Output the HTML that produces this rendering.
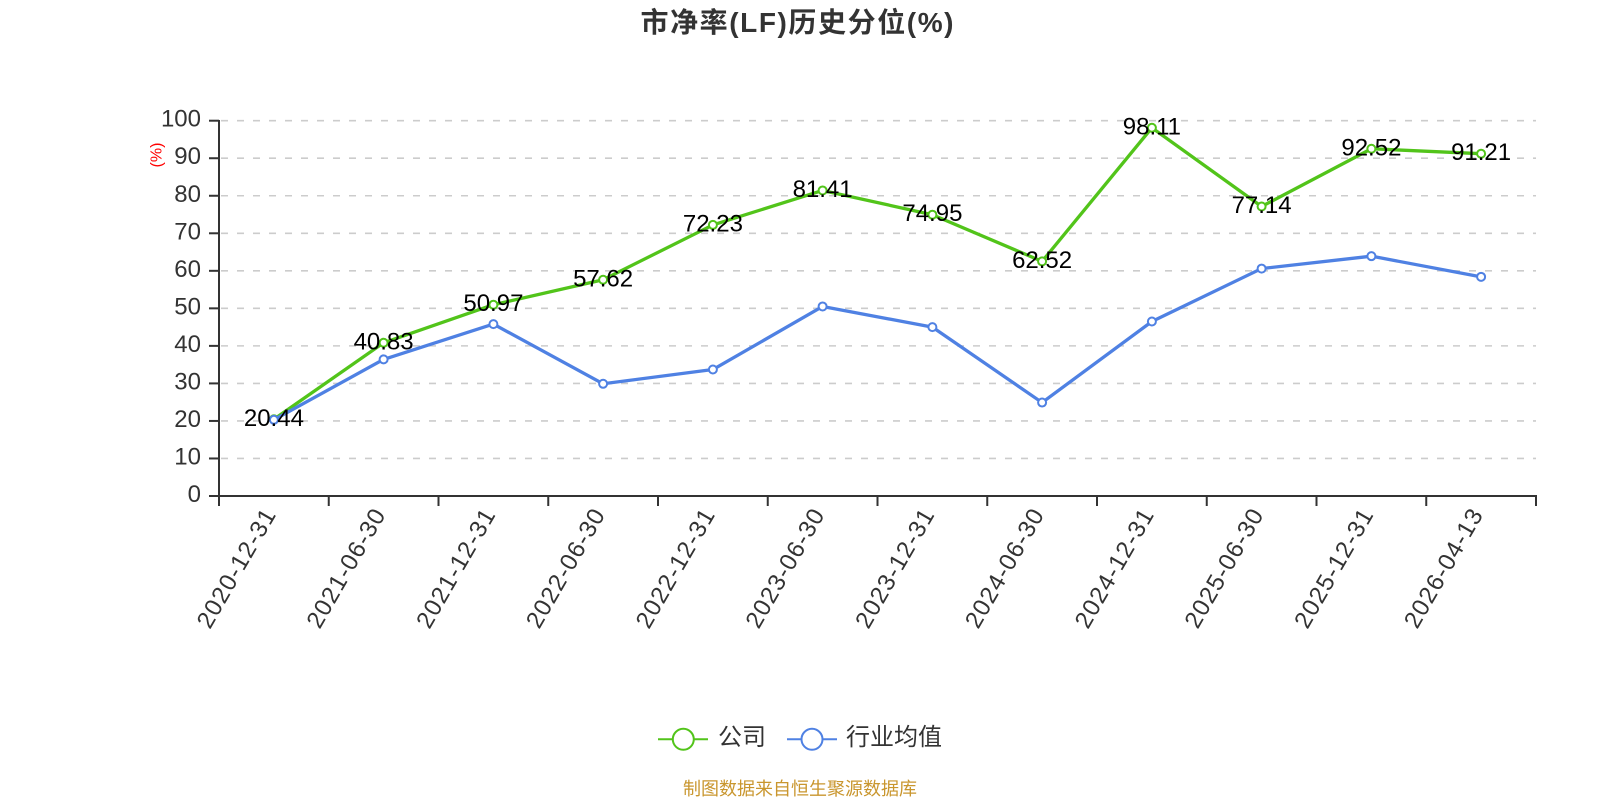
<!DOCTYPE html>
<html>
<head>
<meta charset="utf-8">
<style>
  html, body { margin: 0; padding: 0; background: #ffffff; }
  svg { display: block; }
  text { font-family: "Liberation Sans", "Noto Sans CJK SC", sans-serif; }
</style>
</head>
<body>
<svg width="1600" height="800" viewBox="0 0 1600 800" xmlns="http://www.w3.org/2000/svg">
  <rect x="0" y="0" width="1600" height="800" fill="#ffffff"/>

  <!-- Title -->
  <text x="797" y="32" text-anchor="middle" font-size="28" font-weight="bold" fill="#333333" textLength="313" lengthAdjust="spacing">市净率(LF)历史分位(%)</text>

  <!-- Grid lines -->
  <g stroke="#cccccc" stroke-width="1.6" stroke-dasharray="7 9" fill="none">
    <line x1="221" y1="458.47" x2="1536" y2="458.47"/>
    <line x1="221" y1="420.94" x2="1536" y2="420.94"/>
    <line x1="221" y1="383.41" x2="1536" y2="383.41"/>
    <line x1="221" y1="345.88" x2="1536" y2="345.88"/>
    <line x1="221" y1="308.35" x2="1536" y2="308.35"/>
    <line x1="221" y1="270.82" x2="1536" y2="270.82"/>
    <line x1="221" y1="233.29" x2="1536" y2="233.29"/>
    <line x1="221" y1="195.76" x2="1536" y2="195.76"/>
    <line x1="221" y1="158.23" x2="1536" y2="158.23"/>
    <line x1="221" y1="120.7" x2="1536" y2="120.7"/>
  </g>

  <!-- Y axis -->
  <g stroke="#333333" stroke-width="2" fill="none">
    <line x1="219" y1="120" x2="219" y2="497"/>
    <line x1="209" y1="496" x2="219" y2="496"/>
    <line x1="209" y1="458.47" x2="219" y2="458.47"/>
    <line x1="209" y1="420.94" x2="219" y2="420.94"/>
    <line x1="209" y1="383.41" x2="219" y2="383.41"/>
    <line x1="209" y1="345.88" x2="219" y2="345.88"/>
    <line x1="209" y1="308.35" x2="219" y2="308.35"/>
    <line x1="209" y1="270.82" x2="219" y2="270.82"/>
    <line x1="209" y1="233.29" x2="219" y2="233.29"/>
    <line x1="209" y1="195.76" x2="219" y2="195.76"/>
    <line x1="209" y1="158.23" x2="219" y2="158.23"/>
    <line x1="209" y1="120.7" x2="219" y2="120.7"/>
  </g>
  <g font-size="24" fill="#333333" text-anchor="end">
    <text x="201" y="502">0</text>
    <text x="201" y="464.47">10</text>
    <text x="201" y="426.94">20</text>
    <text x="201" y="389.41">30</text>
    <text x="201" y="351.88">40</text>
    <text x="201" y="314.35">50</text>
    <text x="201" y="276.82">60</text>
    <text x="201" y="239.29">70</text>
    <text x="201" y="201.76">80</text>
    <text x="201" y="164.23">90</text>
    <text x="201" y="126.7">100</text>
  </g>
  <text x="157" y="155" font-size="16" fill="#ff0000" text-anchor="middle" dominant-baseline="central" transform="rotate(-90 157 155)">(%)</text>

  <!-- X axis -->
  <g stroke="#333333" stroke-width="2" fill="none">
    <line x1="218" y1="496" x2="1537" y2="496"/>
    <line x1="219" y1="496" x2="219" y2="506"/>
    <line x1="328.75" y1="496" x2="328.75" y2="506"/>
    <line x1="438.5" y1="496" x2="438.5" y2="506"/>
    <line x1="548.25" y1="496" x2="548.25" y2="506"/>
    <line x1="658" y1="496" x2="658" y2="506"/>
    <line x1="767.75" y1="496" x2="767.75" y2="506"/>
    <line x1="877.5" y1="496" x2="877.5" y2="506"/>
    <line x1="987.25" y1="496" x2="987.25" y2="506"/>
    <line x1="1097" y1="496" x2="1097" y2="506"/>
    <line x1="1206.75" y1="496" x2="1206.75" y2="506"/>
    <line x1="1316.5" y1="496" x2="1316.5" y2="506"/>
    <line x1="1426.25" y1="496" x2="1426.25" y2="506"/>
    <line x1="1536" y1="496" x2="1536" y2="506"/>
  </g>
  <g font-size="24" fill="#333333" text-anchor="end" dominant-baseline="central">
    <text x="269.9" y="511" textLength="133" lengthAdjust="spacing" transform="rotate(-60 269.9 511)">2020-12-31</text>
    <text x="379.6" y="511" textLength="133" lengthAdjust="spacing" transform="rotate(-60 379.6 511)">2021-06-30</text>
    <text x="489.4" y="511" textLength="133" lengthAdjust="spacing" transform="rotate(-60 489.4 511)">2021-12-31</text>
    <text x="599.1" y="511" textLength="133" lengthAdjust="spacing" transform="rotate(-60 599.1 511)">2022-06-30</text>
    <text x="708.9" y="511" textLength="133" lengthAdjust="spacing" transform="rotate(-60 708.9 511)">2022-12-31</text>
    <text x="818.6" y="511" textLength="133" lengthAdjust="spacing" transform="rotate(-60 818.6 511)">2023-06-30</text>
    <text x="928.4" y="511" textLength="133" lengthAdjust="spacing" transform="rotate(-60 928.4 511)">2023-12-31</text>
    <text x="1038.1" y="511" textLength="133" lengthAdjust="spacing" transform="rotate(-60 1038.1 511)">2024-06-30</text>
    <text x="1147.9" y="511" textLength="133" lengthAdjust="spacing" transform="rotate(-60 1147.9 511)">2024-12-31</text>
    <text x="1257.6" y="511" textLength="133" lengthAdjust="spacing" transform="rotate(-60 1257.6 511)">2025-06-30</text>
    <text x="1367.4" y="511" textLength="133" lengthAdjust="spacing" transform="rotate(-60 1367.4 511)">2025-12-31</text>
    <text x="1477.1" y="511" textLength="133" lengthAdjust="spacing" transform="rotate(-60 1477.1 511)">2026-04-13</text>
  </g>

  <!-- Green series (公司) -->
  <polyline fill="none" stroke="#52c41a" stroke-width="3.3" stroke-linejoin="round"
    points="273.9,419.29 383.6,342.76 493.4,304.71 603.1,279.75 712.9,224.92 822.6,190.47 932.4,214.71 1042.1,261.36 1151.9,127.79 1261.6,206.49 1371.4,148.77 1481.1,153.69"/>
  <g fill="#ffffff" stroke="#52c41a" stroke-width="2">
    <circle cx="273.9" cy="419.29" r="4"/>
    <circle cx="383.6" cy="342.76" r="4"/>
    <circle cx="493.4" cy="304.71" r="4"/>
    <circle cx="603.1" cy="279.75" r="4"/>
    <circle cx="712.9" cy="224.92" r="4"/>
    <circle cx="822.6" cy="190.47" r="4"/>
    <circle cx="932.4" cy="214.71" r="4"/>
    <circle cx="1042.1" cy="261.36" r="4"/>
    <circle cx="1151.9" cy="127.79" r="4"/>
    <circle cx="1261.6" cy="206.49" r="4"/>
    <circle cx="1371.4" cy="148.77" r="4"/>
    <circle cx="1481.1" cy="153.69" r="4"/>
  </g>

  <!-- Blue series (行业均值) -->
  <polyline fill="none" stroke="#4f81e3" stroke-width="3.3" stroke-linejoin="round"
    points="273.9,419.81 383.6,359.39 493.4,324.11 603.1,383.79 712.9,369.52 822.6,306.47 932.4,327.12 1042.1,402.55 1151.9,321.49 1261.6,268.57 1371.4,256.18 1481.1,276.82"/>
  <g fill="#ffffff" stroke="#4f81e3" stroke-width="2">
    <circle cx="273.9" cy="419.81" r="4"/>
    <circle cx="383.6" cy="359.39" r="4"/>
    <circle cx="493.4" cy="324.11" r="4"/>
    <circle cx="603.1" cy="383.79" r="4"/>
    <circle cx="712.9" cy="369.52" r="4"/>
    <circle cx="822.6" cy="306.47" r="4"/>
    <circle cx="932.4" cy="327.12" r="4"/>
    <circle cx="1042.1" cy="402.55" r="4"/>
    <circle cx="1151.9" cy="321.49" r="4"/>
    <circle cx="1261.6" cy="268.57" r="4"/>
    <circle cx="1371.4" cy="256.18" r="4"/>
    <circle cx="1481.1" cy="276.82" r="4"/>
  </g>

  <!-- Data labels -->
  <g font-size="24" fill="#000000" text-anchor="middle">
    <text x="273.9" y="425.8">20.44</text>
    <text x="383.6" y="349.3">40.83</text>
    <text x="493.4" y="311.2">50.97</text>
    <text x="603.1" y="286.3">57.62</text>
    <text x="712.9" y="231.4">72.23</text>
    <text x="822.6" y="197">81.41</text>
    <text x="932.4" y="221.2">74.95</text>
    <text x="1042.1" y="267.9">62.52</text>
    <text x="1151.9" y="134.3">98.11</text>
    <text x="1261.6" y="213">77.14</text>
    <text x="1371.4" y="155.3">92.52</text>
    <text x="1481.1" y="160.2">91.21</text>
  </g>

  <!-- Legend -->
  <g>
    <line x1="658" y1="739.3" x2="708" y2="739.3" stroke="#52c41a" stroke-width="2"/>
    <circle cx="683.3" cy="739.3" r="10.5" fill="#ffffff" stroke="#52c41a" stroke-width="2"/>
    <text x="718" y="745" font-size="24" fill="#333333">公司</text>
    <line x1="787" y1="739.3" x2="837" y2="739.3" stroke="#4f81e3" stroke-width="2"/>
    <circle cx="812" cy="739.3" r="10.5" fill="#ffffff" stroke="#4f81e3" stroke-width="2"/>
    <text x="846" y="745" font-size="24" fill="#333333">行业均值</text>
  </g>

  <!-- Footer -->
  <text x="800" y="795" text-anchor="middle" font-size="18" fill="#c9962e">制图数据来自恒生聚源数据库</text>
</svg>
</body>
</html>
